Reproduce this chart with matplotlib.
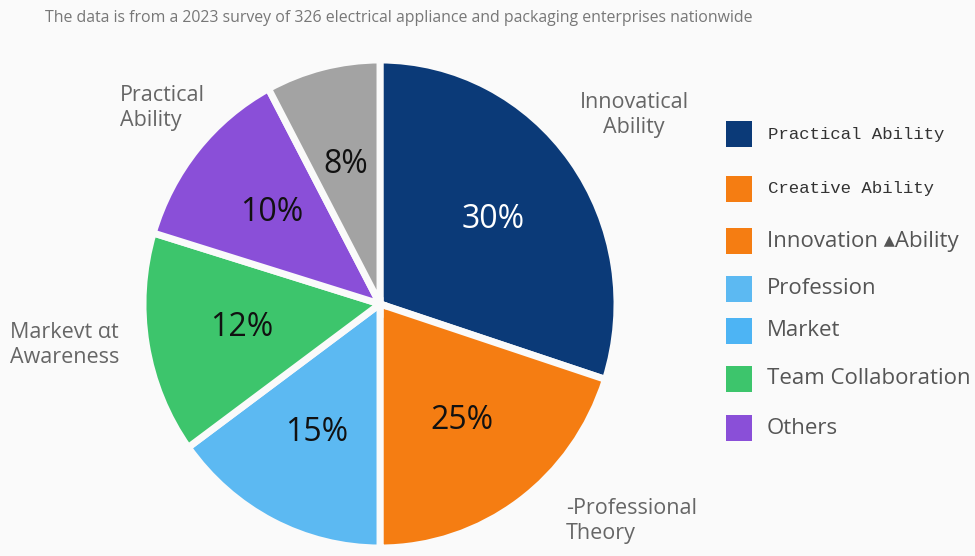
import matplotlib
matplotlib.use("Agg")
import matplotlib.pyplot as plt
from matplotlib.patches import Rectangle

# ---- data ----
# wedge sizes as drawn in the picture, and the percentages printed on them
drawn_sizes = [30, 20, 15, 14.7, 12.5, 7.8]
pct_labels = ["30%", "25%", "15%", "12%", "10%", "8%"]
slice_colors = ["#0b3a78", "#f57d12", "#5cb9f2", "#3dc56c", "#8a4fd8", "#a3a3a3"]
pct_colors = ["white", "#111111", "#111111", "#111111", "#111111", "#111111"]
outer_labels = ["Innovatical\nAbility", "-Professional\nTheory", "Markevt αt\nAwareness", "Practical\nAbility"]
legend_labels = ["Practical Ability", "Creative Ability", "Innovation \u25b4Ability",
                 "Profession", "Market", "Team Collaboration", "Others"]
legend_colors = ["#0b3a78", "#f57d12", "#f57d12", "#5cb9f2", "#4db4f4", "#3dc56c", "#8a4fd8"]
title = "The data is from a 2023 survey of 326 electrical appliance and packaging enterprises nationwide"

W, H = 975, 556
BG = "#fafafa"
fig = plt.figure(figsize=(W / 100, H / 100), dpi=100)
fig.patch.set_facecolor(BG)

def fx(x):
    return x / W

def fy(y):
    return 1 - y / H

# pie axes (slightly taller than wide, like the reference)
cx, cy, rx, ry = 380, 304, 237, 244
ax = fig.add_axes([fx(cx - rx), fy(cy + ry), 2 * rx / W, 2 * ry / H])
wedges, texts = ax.pie(
    drawn_sizes, colors=slice_colors, startangle=90, counterclock=False,
    radius=1.0, wedgeprops=dict(edgecolor=BG, linewidth=5),
)
ax.set_aspect("auto")
ax.set_xlim(-1.0, 1.0)
ax.set_ylim(-1.0, 1.0)
ax.axis("off")

import numpy as np
for w, lab, c in zip(wedges, pct_labels, pct_colors):
    ang = np.deg2rad((w.theta1 + w.theta2) / 2)
    ax.text(0.59 * np.cos(ang), 0.59 * np.sin(ang), lab, ha="center", va="center",
            fontsize=23, color=c, family=["Open Sans", "DejaVu Sans"])

# outer labels
lab_font = dict(fontsize=15.5, color="#666666", family=["Open Sans", "DejaVu Sans"], linespacing=1.3)
fig.text(fx(634), fy(115), outer_labels[0], ha="center", va="center", **lab_font)
fig.text(fx(566), fy(521), outer_labels[1], ha="left", va="center", **lab_font)
fig.text(fx(10), fy(345), outer_labels[2], ha="left", va="center", **lab_font)
fig.text(fx(120), fy(108), outer_labels[3], ha="left", va="center", **lab_font)

# title
fig.text(fx(45), fy(18), title, ha="left", va="center", fontsize=11.4, color="#777777",
         family=["Open Sans", "DejaVu Sans"])

# legend
leg_y = [134, 189, 241, 289, 331, 379, 428]
for i, (lab, col, y) in enumerate(zip(legend_labels, legend_colors, leg_y)):
    fig.patches.append(Rectangle((fx(726), fy(y + 13)), 26 / W, 26 / H,
                                 transform=fig.transFigure, facecolor=col, edgecolor="none"))
    if i < 2:
        fig.text(fx(768), fy(y), lab, ha="left", va="center", fontsize=12.5, color="#333333",
                 family=["Liberation Mono", "DejaVu Sans Mono"])
    else:
        fig.text(fx(767), fy(y), lab, ha="left", va="center", fontsize=16, color="#555555",
                 family=["Open Sans", "DejaVu Sans"])

fig.savefig("out.png", dpi=100, facecolor=fig.get_facecolor())
